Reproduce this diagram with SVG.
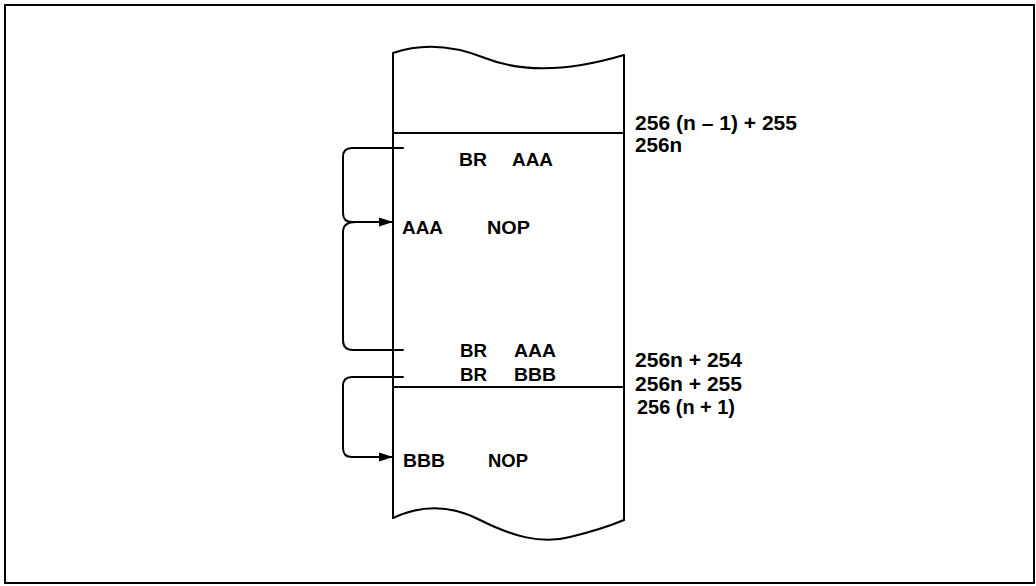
<svg xmlns="http://www.w3.org/2000/svg" width="1036" height="586" viewBox="0 0 1036 586">
<style>
.ln{fill:none;stroke:#000;stroke-width:2;stroke-linecap:round;stroke-linejoin:round}
.t{font-family:"Liberation Sans",Arial,sans-serif;font-size:18px;font-weight:bold;fill:#000}
.r{font-family:"Liberation Sans",Arial,sans-serif;font-size:20px;font-weight:bold;fill:#000}
</style>
<defs>
<marker id="ah" viewBox="0 0 14 10" refX="14" refY="5" markerWidth="14" markerHeight="10" markerUnits="userSpaceOnUse" orient="auto">
<path d="M0,0.5 L14,5 L0,9.5 Z" fill="#000"/>
</marker>
</defs>
<rect x="5" y="5" width="1029" height="578" fill="#fff" stroke="#000" stroke-width="2"/>
<g id="memory">
<path class="ln" d="M393,518 V53 C425,42 455,46 485,58 S560,74 624,55 V520"/>
<path class="ln" d="M393,518 C425,503 455,507 480,520 C510,535 540,545 570,537 C595,531 612,525 624,520"/>
<line class="ln" x1="393" y1="133" x2="624" y2="133"/>
<line class="ln" x1="393" y1="387" x2="624" y2="387"/>
</g>
<g id="connectors">
<path class="ln" d="M403,148 H352 Q343,148 343,157 V213 Q343,222 352,222 H393" marker-end="url(#ah)"/>
<path class="ln" d="M356,222 Q343,222 343,232 V340 Q343,350 353,350 H403"/>
<path class="ln" d="M403,377 H352 Q343,377 343,386 V448 Q343,457 352,457 H393" marker-end="url(#ah)"/>
</g>
<g id="block-n">
<text class="t" x="459" y="166" textLength="28" lengthAdjust="spacingAndGlyphs">BR</text>
<text class="t" x="512" y="166" textLength="41" lengthAdjust="spacingAndGlyphs">AAA</text>
<text class="t" x="402" y="234" textLength="41" lengthAdjust="spacingAndGlyphs">AAA</text>
<text class="t" x="487" y="234" textLength="43" lengthAdjust="spacingAndGlyphs">NOP</text>
<text class="t" x="460" y="357" textLength="27" lengthAdjust="spacingAndGlyphs">BR</text>
<text class="t" x="514" y="357" textLength="42" lengthAdjust="spacingAndGlyphs">AAA</text>
<text class="t" x="460" y="381" textLength="27" lengthAdjust="spacingAndGlyphs">BR</text>
<text class="t" x="514" y="381" textLength="42" lengthAdjust="spacingAndGlyphs">BBB</text>
</g>
<g id="block-n1">
<text class="t" x="403" y="467" textLength="42" lengthAdjust="spacingAndGlyphs">BBB</text>
<text class="t" x="488" y="467" textLength="40" lengthAdjust="spacingAndGlyphs">NOP</text>
</g>
<g id="addresses">
<text class="r" x="635" y="130" textLength="162" lengthAdjust="spacingAndGlyphs">256 (n – 1) + 255</text>
<text class="r" x="635" y="152" textLength="47" lengthAdjust="spacingAndGlyphs">256n</text>
<text class="r" x="635" y="367" textLength="107" lengthAdjust="spacingAndGlyphs">256n + 254</text>
<text class="r" x="635" y="391" textLength="107" lengthAdjust="spacingAndGlyphs">256n + 255</text>
<text class="r" x="637" y="414" textLength="98" lengthAdjust="spacingAndGlyphs">256 (n + 1)</text>
</g>
</svg>
